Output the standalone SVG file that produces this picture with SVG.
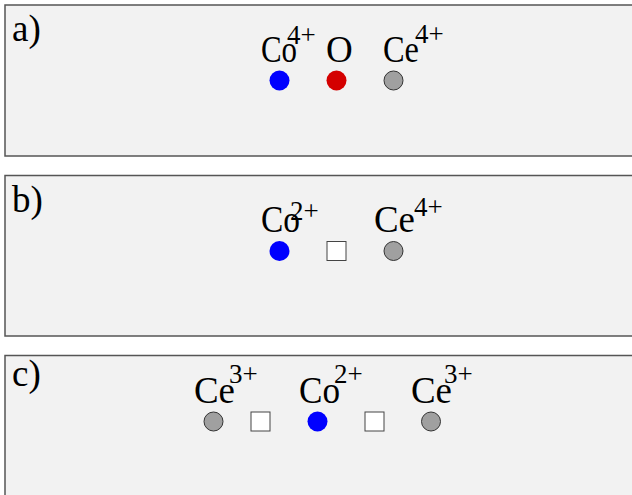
<svg xmlns="http://www.w3.org/2000/svg" width="632" height="495" viewBox="0 0 632 495">
<style>
.panel{fill:#f2f2f2;stroke:#555;stroke-width:1.5}
.t{font-family:"Liberation Serif","Times New Roman",serif;font-size:37px;fill:#000}
.s{font-family:"Liberation Serif","Times New Roman",serif;font-size:27px;fill:#000}
.co{fill:#0000ff}
.ox{fill:#d40000}
.ce{fill:#a0a0a0;stroke:#333;stroke-width:1}
.vac{fill:#fff;stroke:#444;stroke-width:1}
</style>
<g id="panel-a">
<rect class="panel" x="5" y="5" width="640" height="151"/>
<text class="t" x="12" y="41">a)</text>
<text class="t" x="261" y="62" textLength="36" lengthAdjust="spacingAndGlyphs">Co</text><text class="s" x="287" y="44">4+</text>
<text class="t" x="326" y="62">O</text>
<text class="t" x="383" y="62" textLength="36" lengthAdjust="spacingAndGlyphs">Ce</text><text class="s" x="415" y="43">4+</text>
<circle class="co" cx="279.5" cy="80.5" r="10"/>
<circle class="ox" cx="336.5" cy="80.5" r="10"/>
<circle class="ce" cx="393.5" cy="80.5" r="9.5"/>
</g>
<g id="panel-b">
<rect class="panel" x="5" y="175.5" width="640" height="160.5"/>
<text class="t" x="12" y="212">b)</text>
<text class="t" x="261" y="232" textLength="39" lengthAdjust="spacingAndGlyphs">Co</text><text class="s" x="290" y="220">2+</text>
<text class="t" x="374" y="232" textLength="41" lengthAdjust="spacingAndGlyphs">Ce</text><text class="s" x="414" y="216">4+</text>
<circle class="co" cx="279.5" cy="251" r="10"/>
<rect class="vac" x="327" y="241.5" width="19" height="19"/>
<circle class="ce" cx="393.5" cy="251" r="9.5"/>
</g>
<g id="panel-c">
<rect class="panel" x="5" y="355.5" width="640" height="160"/>
<text class="t" x="12" y="386">c)</text>
<text class="t" x="194" y="402.5" textLength="41" lengthAdjust="spacingAndGlyphs">Ce</text><text class="s" x="229" y="383">3+</text>
<text class="t" x="299" y="402.5" textLength="41" lengthAdjust="spacingAndGlyphs">Co</text><text class="s" x="334" y="383">2+</text>
<text class="t" x="411" y="402.5" textLength="41" lengthAdjust="spacingAndGlyphs">Ce</text><text class="s" x="444" y="383">3+</text>
<circle class="ce" cx="213.5" cy="421.5" r="9.5"/>
<rect class="vac" x="251" y="412" width="19" height="19"/>
<circle class="co" cx="317.5" cy="421.5" r="10"/>
<rect class="vac" x="365" y="412" width="19" height="19"/>
<circle class="ce" cx="431" cy="421.5" r="9.5"/>
</g>
<g id="connectors"/>
</svg>
